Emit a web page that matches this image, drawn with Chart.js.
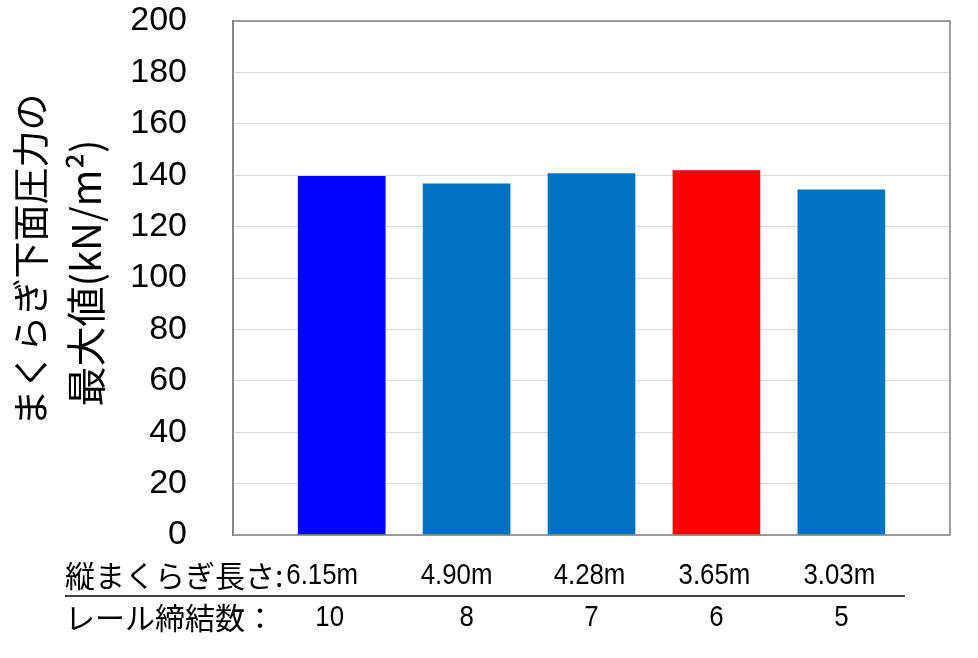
<!DOCTYPE html>
<html>
<head>
<meta charset="utf-8">
<script src="https://cdn.jsdelivr.net/npm/chart.js@4.4.1/dist/chart.umd.min.js"></script>
<style>
  html, body { margin: 0; padding: 0; background: #fff; }
  #wrap { width: 978px; height: 658px; }
</style>
</head>
<body>
<div id="wrap"><canvas id="pressureChart"></canvas></div>
<script>
// rows shown under the plot
const sleeperLengths = ['6.15m', '4.90m', '4.28m', '3.65m', '3.03m'];
const fastenerCounts = ['10', '8', '7', '6', '5'];
const caseIndex = [1, 2, 3, 4, 5];
// max pressure under sleeper (kN/m2)
const maxPressure = [139.6, 136.6, 140.6, 141.8, 134.3];
const barColors = ['#0000FF', '#0070C0', '#0070C0', '#FF0000', '#0070C0'];
const yTitleLines = ['まくらぎ下面圧力の', '最大値(kN/m²)'];

const jpFont = '"Noto Sans CJK JP", sans-serif';
const numFont = '"Liberation Sans", Arial, sans-serif';

function drawNarrow(ctx, text, x, y, align) {
    ctx.save();
    ctx.translate(x, y);
    ctx.scale(0.86, 1);
    ctx.textAlign = align;
    ctx.fillText(text, 0, 0);
    ctx.restore();
}

var plotFramePlugin = {
    id: 'plotFrame',
    afterDraw: (chart) => {
        const ctx = chart.ctx;
        const a = chart.chartArea;
        ctx.save();
        ctx.strokeStyle = '#808080';
        ctx.lineWidth = 1.5;
        ctx.strokeRect(a.left, a.top, a.right - a.left, a.bottom - a.top);
        ctx.restore();
    }
};

// vertical y-axis title, two lines
var yTitlePlugin = {
    id: 'yTitle',
    afterDraw: (chart) => {
        const ctx = chart.ctx;
        ctx.save();
        ctx.fillStyle = '#000';
        ctx.textAlign = 'center';
        ctx.textBaseline = 'middle';
        ctx.font = '37px ' + jpFont;
        ctx.translate(31, 260);
        ctx.rotate(-Math.PI / 2);
        ctx.fillText(yTitleLines[0], 0, 0);
        ctx.restore();

        ctx.save();
        ctx.fillStyle = '#000';
        ctx.textAlign = 'center';
        ctx.textBaseline = 'middle';
        ctx.font = '40px ' + jpFont;
        ctx.translate(86, 273);
        ctx.rotate(-Math.PI / 2);
        ctx.fillText(yTitleLines[1], 0, 0);
        ctx.restore();
    }
};

var bottomRowsPlugin = {
    id: 'bottomRows',
    afterDraw: (chart) => {
        const ctx = chart.ctx;
        const xs = chart.scales.x;
        ctx.save();
        ctx.fillStyle = '#000';
        ctx.textBaseline = 'middle';

        // row 1: sleeper length
        const y1 = 576;
        const label1 = '縦まくらぎ長さ:';
        ctx.font = '30px ' + jpFont;
        ctx.textAlign = 'left';
        ctx.fillText(label1, 65, y1);
        const labelEnd = 65 + ctx.measureText(label1).width;
        ctx.font = '30px ' + numFont;
        sleeperLengths.forEach((t, i) => {
            if (i === 0) {
                drawNarrow(ctx, t, labelEnd + 3, y1, 'left');
            } else {
                drawNarrow(ctx, t, xs.getPixelForValue(caseIndex[i]) - (i === 1 ? 10 : 2), y1, 'center');
            }
        });

        // divider
        ctx.strokeStyle = '#000';
        ctx.lineWidth = 1.5;
        ctx.beginPath();
        ctx.moveTo(65, 596);
        ctx.lineTo(905, 596);
        ctx.stroke();

        // row 2: number of rail fasteners
        const y2 = 618;
        ctx.font = '30px ' + jpFont;
        ctx.textAlign = 'left';
        ctx.fillText('レール締結数：', 65, y2);
        ctx.font = '30px ' + numFont;
        fastenerCounts.forEach((t, i) => {
            drawNarrow(ctx, t, xs.getPixelForValue(caseIndex[i]) - (i === 0 ? 12 : 0), y2, 'center');
        });
        ctx.restore();
    }
};

var pressureChart = new Chart(document.getElementById('pressureChart').getContext('2d'), {
    type: 'bar',
    plugins: [plotFramePlugin, yTitlePlugin, bottomRowsPlugin],
    data: {
        datasets: [{
            data: caseIndex.map((x, i) => ({ x: x, y: maxPressure[i] })),
            backgroundColor: barColors,
            borderWidth: 0,
            barThickness: 87
        }]
    },
    options: {
        responsive: true,
        maintainAspectRatio: false,
        animation: false,
        layout: {
            padding: { left: 0, right: 28, top: 21, bottom: 123 }
        },
        plugins: {
            legend: { display: false },
            tooltip: { enabled: false }
        },
        scales: {
            x: {
                type: 'linear',
                min: 0.13,
                max: 5.87,
                bounds: 'data',
                offset: false,
                display: false,
                grid: { offset: false }
            },
            y: {
                min: 0,
                max: 200,
                afterFit: (scale) => {
                    scale.width = 233;
                    scale.paddingTop = 0;
                    scale.paddingBottom = 0;
                },
                ticks: {
                    stepSize: 20,
                    color: '#000',
                    padding: 46,
                    font: { family: numFont, size: 34 }
                },
                grid: { color: '#D9D9D9', lineWidth: 1, drawTicks: false },
                border: { display: true, color: '#808080', width: 1.5 },
                title: { display: false }
            }
        }
    }
});
</script>
</body>
</html>
